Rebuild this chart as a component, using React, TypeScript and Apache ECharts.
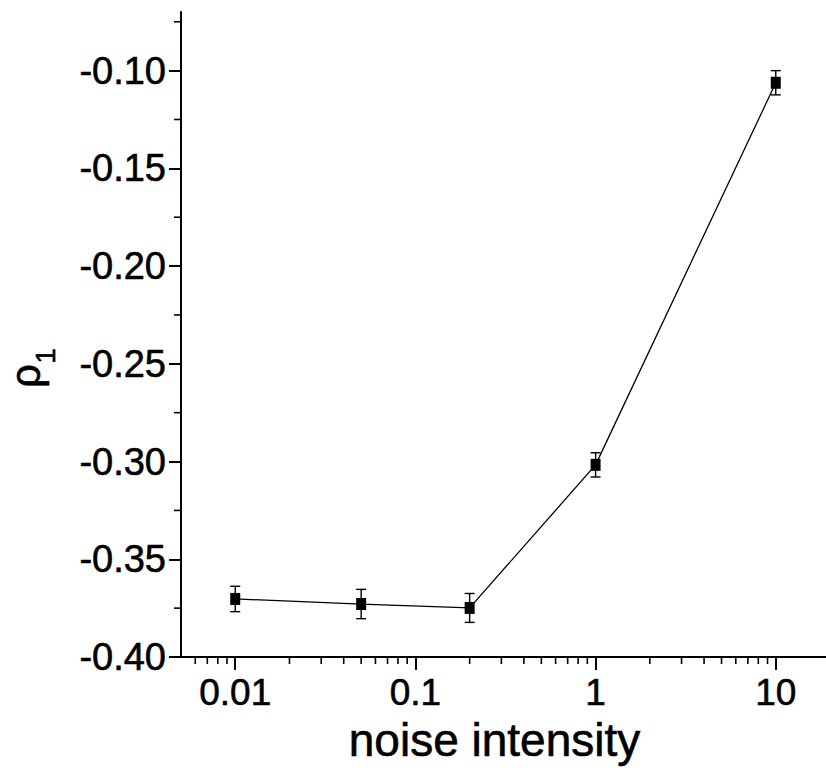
import React, { useEffect, useRef } from 'react';
import * as echarts from 'echarts';

// Data
const xValues = [0.01, 0.05, 0.2, 1, 10];
const yValues = [-0.3703, -0.3729, -0.3749, -0.3017, -0.1062];
const yErrors = [0.0065, 0.0075, 0.0074, 0.0062, 0.0062];

// Axis ticks
const xMajorTicks = [0.01, 0.1, 1, 10];
const xTickLabels = ['0.01', '0.1', '1', '10'];
const xMinorTicks = [
  0.006, 0.007, 0.008, 0.009,
  0.02, 0.03, 0.04, 0.05, 0.06, 0.07, 0.08, 0.09,
  0.2, 0.3, 0.4, 0.5, 0.6, 0.7, 0.8, 0.9,
  2, 3, 4, 5, 6, 7, 8, 9,
];
const yMajorTicks = [-0.4, -0.35, -0.3, -0.25, -0.2, -0.15, -0.1];
const yMinorTicks = [-0.375, -0.325, -0.275, -0.225, -0.175, -0.125, -0.075];

const X_MIN = 0.005;
const X_MAX = 20;
const Y_MIN = -0.4;
const Y_MAX = -0.07;

const FONT = '"Liberation Sans", Arial, Helvetica, sans-serif';

export default function App() {
  const ref = useRef<HTMLDivElement>(null);

  useEffect(() => {
    if (!ref.current) return;
    const chart = echarts.init(ref.current, undefined, { renderer: 'svg' });

    const labelFor = (v: number) => {
      let best = 0;
      let bestD = Infinity;
      xMajorTicks.forEach((t, i) => {
        const d = Math.abs(Math.log10(v) - Math.log10(t));
        if (d < bestD) { bestD = d; best = i; }
      });
      return bestD < 0.01 ? xTickLabels[best] : '';
    };

    const heavy = { textBorderColor: '#000', textBorderWidth: 0.6 };

    const option: any = {
      animation: false,
      backgroundColor: '#fff',
      grid: { left: 181, top: 12, width: 649, height: 645, containLabel: false, outerBoundsMode: 'none' },
      xAxis: {
        type: 'log',
        logBase: 10,
        min: X_MIN,
        max: X_MAX,
        name: 'noise intensity',
        nameLocation: 'middle',
        nameGap: 58,
        nameTextStyle: { fontFamily: FONT, fontSize: 46, color: '#000', padding: [0, 22, 0, 0], ...heavy },
        axisLine: { show: true, onZero: false, lineStyle: { color: '#000', width: 2 } },
        axisTick: { show: true, inside: false, length: 13, customValues: xMajorTicks, lineStyle: { color: '#000', width: 2 } },
        axisLabel: {
          show: true,
          margin: 17,
          customValues: xMajorTicks,
          formatter: (v: number) => labelFor(v),
          fontFamily: FONT,
          fontSize: 37,
          color: '#000',
          ...heavy,
        },
        splitLine: { show: false },
        minorTick: { show: false },
      },
      yAxis: {
        type: 'value',
        min: Y_MIN,
        max: Y_MAX,
        interval: 0.05,
        axisLine: { show: true, onZero: false, lineStyle: { color: '#000', width: 2 } },
        axisTick: { show: true, inside: false, length: 12, customValues: yMajorTicks, lineStyle: { color: '#000', width: 2 } },
        axisLabel: {
          show: true,
          margin: 15,
          customValues: yMajorTicks,
          formatter: (v: number) => v.toFixed(2),
          fontFamily: FONT,
          fontSize: 38,
          color: '#000',
          ...heavy,
        },
        splitLine: { show: false },
      },
      graphic: [
        {
          type: 'text',
          x: 25,
          y: 376,
          rotation: Math.PI / 2,
          style: { text: 'ρ', font: `42px ${FONT}`, fill: '#000', textAlign: 'center', textVerticalAlign: 'middle', stroke: '#000', lineWidth: 0.6 },
        },
        {
          type: 'text',
          x: 45,
          y: 356,
          rotation: Math.PI / 2,
          style: { text: '1', font: `28px ${FONT}`, fill: '#000', textAlign: 'center', textVerticalAlign: 'middle', stroke: '#000', lineWidth: 0.6 },
        },
      ],
      series: [
        {
          type: 'line',
          data: xValues.map((x, i) => [x, yValues[i]]),
          symbol: 'rect',
          symbolSize: [10, 12],
          lineStyle: { color: '#000', width: 1.3 },
          itemStyle: { color: '#000' },
          z: 3,
        },
        {
          type: 'custom',
          clip: false,
          data: xValues.map((x, i) => [x, yValues[i], yErrors[i]]),
          renderItem: (params: any, api: any) => {
            const x = api.value(0);
            const y = api.value(1);
            const e = api.value(2);
            const lo = api.coord([x, y - e]);
            const hi = api.coord([x, y + e]);
            const st = { stroke: '#000', lineWidth: 1.4 };
            return {
              type: 'group',
              children: [
                { type: 'line', shape: { x1: lo[0], y1: lo[1], x2: hi[0], y2: hi[1] }, style: st },
                { type: 'line', shape: { x1: lo[0] - 5, y1: lo[1], x2: lo[0] + 5, y2: lo[1] }, style: st },
                { type: 'line', shape: { x1: hi[0] - 5, y1: hi[1], x2: hi[0] + 5, y2: hi[1] }, style: st },
              ],
            };
          },
          z: 2,
        },
        {
          type: 'custom',
          clip: false,
          silent: true,
          data: xMinorTicks.map((v) => [v, Y_MIN]),
          renderItem: (params: any, api: any) => {
            const p = api.coord([api.value(0), api.value(1)]);
            return {
              type: 'line',
              shape: { x1: p[0], y1: p[1], x2: p[0], y2: p[1] + 7 },
              style: { stroke: '#000', lineWidth: 1.6 },
            };
          },
        },
        {
          type: 'custom',
          clip: false,
          silent: true,
          data: yMinorTicks.map((v) => [X_MIN, v]),
          renderItem: (params: any, api: any) => {
            const p = api.coord([api.value(0), api.value(1)]);
            return {
              type: 'line',
              shape: { x1: p[0] - 7, y1: p[1], x2: p[0], y2: p[1] },
              style: { stroke: '#000', lineWidth: 1.6 },
            };
          },
        },
      ],
    };

    chart.setOption(option);
    return () => chart.dispose();
  }, []);

  return (
    <div
      ref={ref}
      style={{ position: 'fixed', left: 0, top: 0, width: 826, height: 770, background: '#fff' }}
    />
  );
}
